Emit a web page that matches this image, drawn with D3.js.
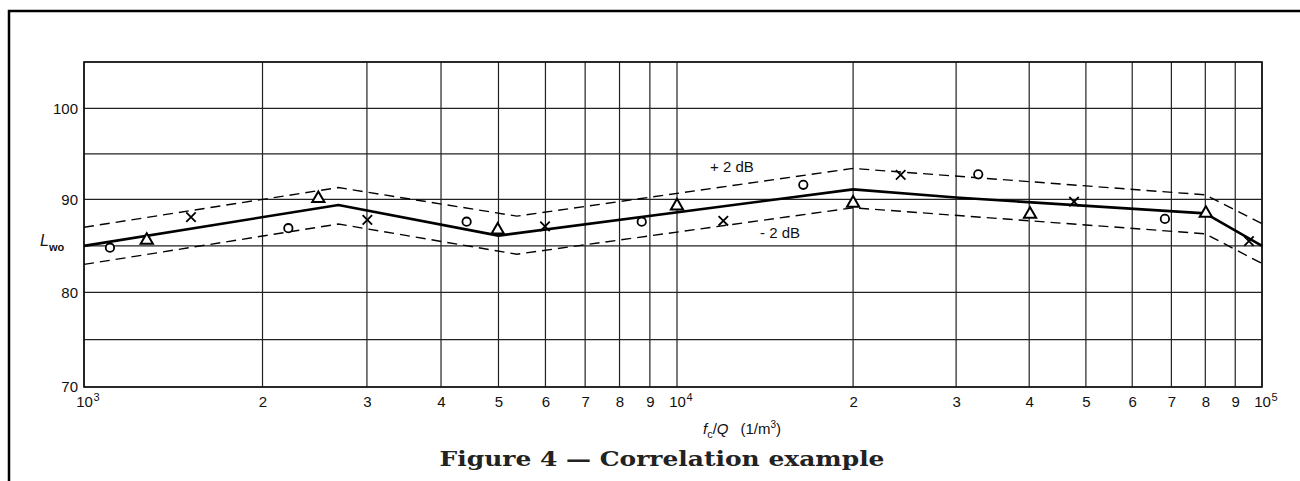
<!DOCTYPE html>
<html>
<head>
<meta charset="utf-8">
<script src="https://cdn.jsdelivr.net/npm/d3@7"></script>
<style>
  body { margin: 0; background: #fff; }
  .tick text { font-family: "Liberation Sans", Arial, sans-serif; font-size: 15px; fill: #111; }
</style>
</head>
<body>
<div id="chart"></div>
<script>
// grid + ticks
var xGrid = [1000, 2000, 3000, 4000, 5000, 6000, 7000, 8000, 9000,
             10000, 20000, 30000, 40000, 50000, 60000, 70000, 80000, 90000, 100000];
var xTickLabels = ["10|3", "2", "3", "4", "5", "6", "7", "8", "9",
                   "10|4", "2", "3", "4", "5", "6", "7", "8", "9", "10|5"];
var yGrid = [70, 75, 80, 85, 90, 95, 100, 105];
var yTicks = [70, 80, 90, 100];

// correlation line and +/- 2 dB band
var meanX = [1000, 2685, 5000, 20000, 30000, 80000, 100000];
var meanY = [85.0, 89.4, 86.1, 91.1, 90.2, 88.5, 85.0];
var bandX = [1000, 2685, 5370, 20000, 80000, 100000];
var upperY = [87.0, 91.3, 88.2, 93.4, 90.5, 87.4];
var lowerY = [83.0, 87.35, 84.1, 89.1, 86.3, 83.1];

// measured points
var circleX = [1106, 2211, 4418, 8720, 16440, 32730, 68240];
var circleY = [84.8, 86.9, 87.6, 87.6, 91.6, 92.75, 87.9];
var triX = [1276, 2484, 4985, 10000, 20000, 40130, 80170];
var triY = [85.6, 90.1, 86.7, 89.3, 89.6, 88.4, 88.5];
var crossX = [1515, 3005, 5990, 12000, 24120, 47720, 95000];
var crossY = [88.1, 87.8, 87.1, 87.7, 92.7, 89.75, 85.5];

var W = 1300, H = 481;

var svg = d3.select("#chart").append("svg")
    .attr("width", W)
    .attr("height", H);

svg.append("rect").attr("width", W).attr("height", H).attr("fill", "#fff");

// page frame
svg.append("path")
    .attr("d", "M9,481V11H1300")
    .attr("fill", "none")
    .attr("stroke", "#000")
    .attr("stroke-width", 2.5);

// graph paper is a bit uneven, so piecewise scales
var x = d3.scaleLog().domain([1e3, 1e4, 1e5]).range([84, 677, 1262]);
var y = d3.scaleLinear().domain([70, 80, 90, 100, 105]).range([387, 292.3, 199.4, 108.3, 62]);

var g = svg.append("g");

// grid
g.selectAll(".vg").data(xGrid).enter().append("line")
    .attr("class", "vg")
    .attr("x1", function (d) { return x(d); })
    .attr("x2", function (d) { return x(d); })
    .attr("y1", y(70)).attr("y2", y(105))
    .attr("stroke", "#222").attr("stroke-width", 1.2);

g.selectAll(".hg").data(yGrid).enter().append("line")
    .attr("class", "hg")
    .attr("y1", function (d) { return y(d); })
    .attr("y2", function (d) { return y(d); })
    .attr("x1", x(1e3)).attr("x2", x(1e5))
    .attr("stroke", "#222").attr("stroke-width", 1.2);

g.append("rect")
    .attr("x", x(1e3)).attr("y", y(105))
    .attr("width", x(1e5) - x(1e3)).attr("height", y(70) - y(105))
    .attr("fill", "none").attr("stroke", "#111").attr("stroke-width", 1.6);

// axes (labels only)
var xAxis = g.append("g")
    .attr("transform", "translate(0," + y(70) + ")")
    .call(d3.axisBottom(x).tickValues(xGrid).tickSize(0).tickPadding(9)
        .tickFormat(function (d, i) { return xTickLabels[i].split("|")[0]; }));
xAxis.select(".domain").remove();
xAxis.selectAll(".tick").each(function (d, i) {
    var parts = xTickLabels[i].split("|");
    if (parts.length > 1) {
        d3.select(this).append("text")
            .attr("x", 9).attr("y", 14)
            .attr("text-anchor", "start")
            .attr("fill", "#111")
            .style("font-size", "11px")
            .text(parts[1]);
    }
});

var yAxis = g.append("g")
    .attr("transform", "translate(" + x(1e3) + ",0)")
    .call(d3.axisLeft(y).tickValues(yTicks).tickSize(0).tickPadding(6));
yAxis.select(".domain").remove();

// lines
var line = d3.line()
    .x(function (d) { return x(d[0]); })
    .y(function (d) { return y(d[1]); });

g.append("path").datum(d3.zip(bandX, upperY))
    .attr("d", line).attr("fill", "none")
    .attr("stroke", "#000").attr("stroke-width", 1.4)
    .attr("stroke-dasharray", "10,6");
g.append("path").datum(d3.zip(bandX, lowerY))
    .attr("d", line).attr("fill", "none")
    .attr("stroke", "#000").attr("stroke-width", 1.4)
    .attr("stroke-dasharray", "10,6");
g.append("path").datum(d3.zip(meanX, meanY))
    .attr("d", line).attr("fill", "none")
    .attr("stroke", "#000").attr("stroke-width", 2.6)
    .attr("stroke-linejoin", "round");

// markers
g.selectAll(".circ").data(d3.zip(circleX, circleY)).enter().append("circle")
    .attr("class", "circ")
    .attr("cx", function (d) { return x(d[0]); })
    .attr("cy", function (d) { return y(d[1]); })
    .attr("r", 4.2)
    .attr("fill", "#fff").attr("stroke", "#000").attr("stroke-width", 1.8);

g.selectAll(".tri").data(d3.zip(triX, triY)).enter().append("path")
    .attr("class", "tri")
    .attr("transform", function (d) { return "translate(" + x(d[0]) + "," + y(d[1]) + ")"; })
    .attr("d", d3.symbol(d3.symbolTriangle, 65))
    .attr("fill", "#fff").attr("stroke", "#000").attr("stroke-width", 2);

g.selectAll(".crs").data(d3.zip(crossX, crossY)).enter().append("path")
    .attr("class", "crs")
    .attr("transform", function (d) { return "translate(" + x(d[0]) + "," + y(d[1]) + ")"; })
    .attr("d", d3.symbol(d3.symbolTimes, 60))
    .attr("fill", "none").attr("stroke", "#000").attr("stroke-width", 1.8);

// band labels
var lab = "'Liberation Sans', Arial, sans-serif";
g.append("text").attr("x", 710).attr("y", 172)
    .attr("font-family", lab).attr("font-size", 15).attr("fill", "#111")
    .text("+ 2 dB");
g.append("text").attr("x", 760).attr("y", 238)
    .attr("font-family", lab).attr("font-size", 15).attr("fill", "#111")
    .text("- 2 dB");

// y label L_wo
var yl = g.append("text").attr("x", 40).attr("y", 246)
    .attr("font-family", lab).attr("fill", "#111");
yl.append("tspan").attr("font-size", 16).attr("font-style", "italic").text("L");
yl.append("tspan").attr("font-size", 11).attr("font-weight", "bold").attr("dy", 5).text("wo");

// x label f_c/Q (1/m3)
var xl = g.append("text").attr("x", 703).attr("y", 434)
    .attr("font-family", lab).attr("font-size", 15).attr("fill", "#111");
xl.append("tspan").attr("font-style", "italic").text("f");
xl.append("tspan").attr("font-size", 11).attr("dy", 4).text("c");
xl.append("tspan").attr("dy", -4).text("/");
xl.append("tspan").attr("font-style", "italic").text("Q");
xl.append("tspan").attr("dx", 12).text("(1/m");
xl.append("tspan").attr("font-size", 10).attr("dy", -6).text("3");
xl.append("tspan").attr("dy", 6).text(")");

// caption
svg.append("text")
    .attr("x", 662).attr("y", 466)
    .attr("text-anchor", "middle")
    .attr("font-family", "'DejaVu Serif', serif")
    .attr("font-weight", "bold")
    .attr("font-size", 21)
    .attr("textLength", 445)
    .attr("lengthAdjust", "spacingAndGlyphs")
    .attr("fill", "#222")
    .text("Figure 4 \u2014 Correlation example");
</script>
</body>
</html>
